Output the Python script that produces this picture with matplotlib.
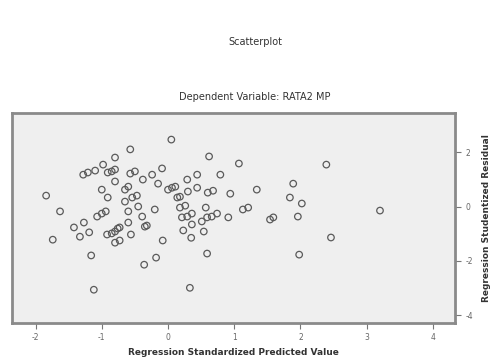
import matplotlib.pyplot as plt

# standardized predicted value vs studentized residual
pred = [0.05, -0.57, -0.80, 0.62, 1.07, -0.98, -1.28, -1.21, -1.10, -0.91, -0.85,
        -0.80, -0.57, -0.50, -0.24, -0.09, -0.38, -0.80, -1.00, -0.65, -0.60,
        -0.15, 0.44, 0.29, 0.79, 0.00, 0.06, 0.11, 0.30, 0.44, -1.84, -0.91,
        -0.65, -0.54, -0.47, 0.14, 0.18, 0.60, 0.68, 0.94, -1.63, -1.07, -1.00,
        -0.94, -0.60, -0.45, -0.39, -0.20, 0.18, 0.26, 0.57, 1.13, 1.21, 0.36,
        0.21, 0.29, 0.51, 0.59, 0.66, 0.74, 0.91, -1.27, -1.42, -0.60, -0.35,
        -0.32, 0.36, -1.19, -0.92, -0.85, -0.80, -0.76, -0.73, -0.56, 0.23,
        0.54, -1.33, -1.74, -0.80, -0.73, -0.08, 0.35, -1.16, 0.59, -0.18,
        -0.36, -1.12, 0.33, 2.39, 1.89, 1.34, 1.84, 2.02, 3.20, 1.54, 1.59,
        1.96, 2.46, 1.98]
resid = [2.46, 2.10, 1.80, 1.84, 1.58, 1.54, 1.17, 1.25, 1.32, 1.25, 1.29,
         1.36, 1.21, 1.29, 1.17, 1.40, 0.99, 0.92, 0.62, 0.62, 0.73, 0.84,
         1.17, 0.99, 1.17, 0.62, 0.69, 0.73, 0.55, 0.69, 0.40, 0.33, 0.18,
         0.33, 0.40, 0.33, 0.36, 0.51, 0.58, 0.47, -0.18, -0.37, -0.26, -0.18,
         -0.18, 0.00, -0.37, -0.11, -0.04, 0.03, -0.04, -0.11, -0.04, -0.26,
         -0.40, -0.37, -0.55, -0.40, -0.37, -0.26, -0.40, -0.59, -0.77, -0.59,
         -0.74, -0.70, -0.66, -0.95, -1.03, -0.99, -0.92, -0.81, -0.77, -1.03,
         -0.88, -0.92, -1.11, -1.22, -1.33, -1.25, -1.25, -1.15, -1.80, -1.73,
         -1.88, -2.14, -3.06, -2.99, 1.54, 0.84, 0.62, 0.33, 0.11, -0.15,
         -0.48, -0.40, -0.37, -1.14, -1.77]

x_ticks = [-2, -1, 0, 1, 2, 3, 4]
y_ticks = [2, 0, -2, -4]

fig = plt.figure(figsize=(4.98, 3.62), dpi=100)
ax = fig.add_axes([0.024, 0.108, 0.89, 0.58])
ax.set_facecolor('#efefef')

ax.scatter(pred, resid, s=22, facecolors='none', edgecolors='#5a5a5a',
           linewidths=0.9, zorder=3)

ax.set_xlim(-2.356, 4.335)
ax.set_ylim(-4.28, 3.44)
ax.set_xticks(x_ticks)
ax.set_xticklabels([str(v) for v in x_ticks])
ax.set_yticks(y_ticks)
ax.set_yticklabels([str(v) for v in y_ticks])
ax.yaxis.tick_right()
ax.yaxis.set_label_position('right')
ax.tick_params(colors='#777777', labelcolor='#666666', labelsize=5.5,
               length=4, width=0.8)

for s in ax.spines.values():
    s.set_color('#8a8a8a')
    s.set_linewidth(2)

ax.set_xlabel('Regression Standardized Predicted Value', fontsize=6.5,
              fontweight='bold', color='#333333', labelpad=4)
ax.set_ylabel('Regression Studentized Residual', fontsize=6.5,
              fontweight='bold', color='#333333', labelpad=6)

fig.text(0.512, 0.884, 'Scatterplot', ha='center', va='center',
         fontsize=7, color='#333333')
fig.text(0.512, 0.732, 'Dependent Variable: RATA2 MP', ha='center',
         va='center', fontsize=7, color='#333333')

fig.savefig('out.png', dpi=100)
